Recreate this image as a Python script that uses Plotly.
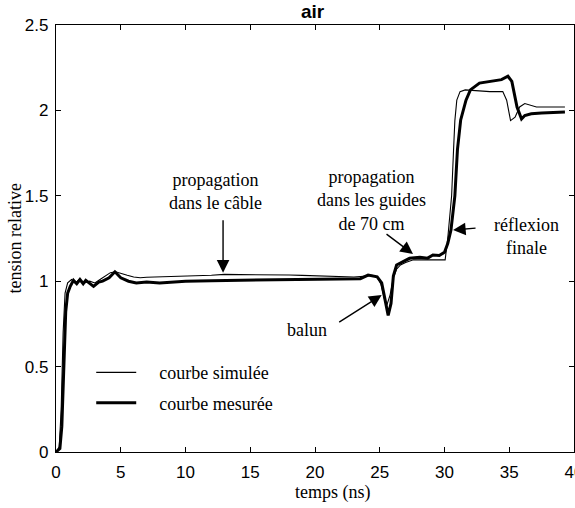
import plotly.graph_objects as go

# ---- data ----
sim_t = [0, 0.25, 0.4, 0.55, 0.7, 0.9, 1.2, 1.5, 1.8, 2.2, 2.6, 3.0, 3.4, 3.8, 4.2, 4.6, 5.0, 5.5,
         6.0, 6.5, 7.0, 8.0, 9.0, 10, 11, 12, 13, 14, 15, 16, 17, 18, 19, 20, 21, 22, 23, 24,
         24.4, 24.8, 25.1, 25.35, 25.55, 25.8, 26.05, 26.3, 26.6, 27.0, 27.6, 28.5, 29.5, 30.05,
         30.25, 30.55, 30.7, 30.8, 30.95, 31.2, 31.6, 32.5, 33.5, 34.5, 34.8, 35.1, 35.45, 35.8,
         36.2, 37.1, 38.0, 39.3]
sim_v = [0, 0.03, 0.25, 0.7, 0.93, 0.99, 1.01, 0.99, 1.01, 0.99, 1.0, 0.99, 1.01, 1.03, 1.05,
         1.055, 1.045, 1.035, 1.025, 1.02, 1.023, 1.025, 1.03, 1.03, 1.033, 1.035, 1.04, 1.04,
         1.04, 1.04, 1.038, 1.036, 1.034, 1.032, 1.03, 1.028, 1.025, 1.03, 1.035, 1.025, 0.98,
         0.9, 0.86, 0.92, 1.02, 1.07, 1.095, 1.11, 1.125, 1.125, 1.125, 1.125, 1.25, 1.5, 1.77,
         1.94, 2.06, 2.11, 2.12, 2.115, 2.11, 2.11, 2.06, 1.94, 1.96, 2.02, 2.04, 2.02, 2.02, 2.02]

mes_t = [0, 0.3, 0.45, 0.6, 0.75, 0.9, 1.1, 1.35, 1.6, 1.85, 2.1, 2.3, 2.55, 2.9, 3.3, 3.6, 4.1,
         4.55, 5.0, 5.6, 6.2, 7.0, 8.0, 9.0, 10, 12, 14, 16, 18, 20, 22, 23.5, 24.1, 24.8, 25.15,
         25.5, 25.65, 25.87, 26.05, 26.3, 26.8, 27.3, 28.1, 28.7, 29.1, 29.6, 30.0, 30.25, 30.5,
         30.8, 31.0, 31.25, 31.66, 32.0, 32.7, 33.5, 34.4, 34.9, 35.2, 35.6, 35.95, 36.2, 36.7,
         37.5, 38.5, 39.3]
mes_v = [0, 0.02, 0.15, 0.55, 0.82, 0.93, 0.97, 1.005, 0.985, 1.01, 0.985, 1.005, 0.99, 0.97,
         0.995, 1.0, 1.02, 1.055, 1.02, 1.0, 0.99, 0.995, 0.99, 0.995, 1.0, 1.003, 1.005, 1.006,
         1.008, 1.01, 1.012, 1.015, 1.036, 1.026, 0.99, 0.87, 0.80, 0.87, 1.03, 1.095, 1.114,
         1.134, 1.14, 1.135, 1.153, 1.15, 1.17, 1.22, 1.3, 1.5, 1.77, 1.944, 2.06, 2.12, 2.16,
         2.17, 2.18, 2.20, 2.17, 2.02, 1.95, 1.97, 1.98, 1.985, 1.99, 1.99]

x_ticks = [0, 5, 10, 15, 20, 25, 30, 35, 40]
x_labels = ["0", "5", "10", "15", "20", "25", "30", "35", "40"]
y_ticks = [0, 0.5, 1, 1.5, 2, 2.5]
y_labels = ["0", "0.5", "1", "1.5", "2", "2.5"]

series_names = ["courbe simulée", "courbe mesurée"]

SERIF = "Liberation Serif, Times New Roman, serif"
SANS = "Liberation Sans, Arial, sans-serif"
GAP = "\u00a0" * 4  # spacing between legend line and its label

fig = go.Figure()
fig.add_trace(go.Scatter(x=sim_t, y=sim_v, mode="lines", name=GAP + series_names[0],
                         line=dict(color="black", width=1.1), legendgroup="a"))
fig.add_trace(go.Scatter(x=mes_t, y=mes_v, mode="lines", name=GAP + series_names[1],
                         line=dict(color="black", width=3), legendgroup="b"))

ann_font = dict(family=SERIF, size=18, color="black")
annotations = [
    dict(x=12.28, y=1.525, text="propagation<br>dans le câble", showarrow=False, font=ann_font),
    dict(x=24.4, y=1.472, text="propagation<br>dans les guides<br>de 70 cm", showarrow=False, font=ann_font),
    dict(x=19.42, y=0.714, text="balun", showarrow=False, font=ann_font),
    dict(x=36.37, y=1.262, text="réflexion<br>finale", showarrow=False, font=ann_font),
    # arrows
    dict(x=12.9, y=1.05, ax=0, ay=-54, text="", showarrow=True, arrowhead=2, arrowsize=1.8,
         arrowwidth=1.4, arrowcolor="black"),
    dict(x=27.57, y=1.159, ax=-28, ay=-21, text="", showarrow=True, arrowhead=2, arrowsize=1.8,
         arrowwidth=1.4, arrowcolor="black"),
    dict(x=25.15, y=0.919, ax=-44, ay=28, text="", showarrow=True, arrowhead=2, arrowsize=1.8,
         arrowwidth=1.4, arrowcolor="black"),
    dict(x=30.66, y=1.30, ax=24, ay=-2, text="", showarrow=True, arrowhead=2, arrowsize=1.8,
         arrowwidth=1.4, arrowcolor="black"),
    # title and axis titles
    dict(xref="paper", yref="paper", x=0.497, y=1.0, xanchor="center", yanchor="middle", yshift=14,
         text="<b>air</b>", showarrow=False, font=dict(family=SANS, size=19, color="black")),
    dict(xref="paper", yref="paper", x=0.535, y=-0.096, xanchor="center", yanchor="middle",
         text="temps (ns)", showarrow=False, font=ann_font),
    dict(xref="paper", yref="paper", x=-0.081, y=0.5, xanchor="center", yanchor="middle",
         text="tension relative", textangle=-90, showarrow=False, font=ann_font),
]

axis_common = dict(showline=True, linecolor="black", linewidth=1.3, mirror="ticks",
                   ticks="inside", ticklen=5, tickcolor="black", tickwidth=1,
                   showgrid=False, zeroline=False, ticklabeloverflow="allow", automargin=False,
                   tickfont=dict(family=SANS, size=17, color="black"))

fig.update_layout(
    width=575, height=508,
    margin=dict(l=56, r=1, t=25, b=56, autoexpand=False),
    paper_bgcolor="white", plot_bgcolor="white",
    xaxis=dict(range=[0, 40], tickvals=x_ticks, ticktext=x_labels, ticklabelstandoff=4, **axis_common),
    yaxis=dict(range=[0, 2.5], tickvals=y_ticks, ticktext=y_labels, ticklabelstandoff=3, **axis_common),
    showlegend=True,
    legend=dict(x=0.068, y=0.229, xanchor="left", yanchor="top", bgcolor="rgba(0,0,0,0)",
                font=dict(family=SERIF, size=18, color="black"), itemwidth=40,
                tracegroupgap=4, traceorder="grouped"),
    annotations=annotations,
)

fig.write_html("out.html")
